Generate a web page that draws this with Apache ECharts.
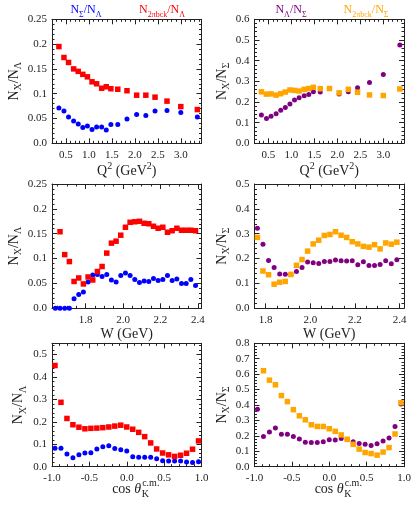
<!DOCTYPE html>
<html><head><meta charset="utf-8">
<script src="https://cdn.jsdelivr.net/npm/echarts/dist/echarts.min.js"></script>
<style>html,body{margin:0;padding:0;background:#fff}#c{width:415px;height:507px}</style>
</head><body><div id="c"></div><script>
// ---------- data ----------
const q2 = [0.35,0.46,0.56,0.67,0.77,0.87,0.97,1.07,1.17,1.28,1.38,1.48,1.63,1.83,2.04,2.24,2.44,2.70,3.00,3.36];
const q2SigLam = [0.071,0.065,0.053,0.045,0.039,0.032,0.035,0.028,0.033,0.033,0.027,0.038,0.038,0.049,0.058,0.056,0.065,0.066,0.062,0.053];
const q2BckLam = [0.195,0.173,0.163,0.150,0.145,0.139,0.134,0.124,0.120,0.111,0.114,0.110,0.109,0.106,0.097,0.097,0.093,0.085,0.074,0.068];
const q2LamSig = [0.137,0.120,0.131,0.143,0.160,0.173,0.190,0.210,0.221,0.230,0.236,0.250,0.248,0.265,0.238,0.249,0.269,0.294,0.333,0.476];
const q2BckSig = [0.249,0.238,0.239,0.233,0.240,0.248,0.258,0.256,0.253,0.261,0.265,0.271,0.264,0.265,0.244,0.261,0.247,0.234,0.231,0.263];

const wLeft = [1.638,1.663,1.688,1.713,1.738,1.763,1.788,1.813,1.838,1.863,1.888,1.913,1.938,1.963,1.988,2.013,2.038,2.063,2.088,2.113,2.138,2.163,2.188,2.213,2.238,2.263,2.288,2.313,2.338,2.363,2.388];
const wSigLam = [0,0,0,0,0.019,0.028,0.033,0.053,0.067,0.068,0.064,0.068,0.057,0.053,0.066,0.071,0.066,0.058,0.052,0.055,0.054,0.060,0.056,0.058,0.066,0.056,0.059,0.050,0.050,0.058,0.046];
const wBckLam = [null,0.154,0.108,0.094,0.054,0.061,0.049,0.063,0.057,0.074,0.084,0.111,0.131,0.135,0.147,0.163,0.173,0.174,0.175,0.171,0.170,0.165,0.161,0.163,0.153,0.156,0.161,0.157,0.157,0.157,0.156];

const wRight = [1.763,1.788,1.813,1.838,1.863,1.888,1.913,1.938,1.963,1.988,2.013,2.038,2.063,2.088,2.113,2.138,2.163,2.188,2.213,2.238,2.263,2.288,2.313,2.338,2.363,2.388];
const wLamSig = [0.322,0.258,0.192,0.164,0.138,0.137,0.137,0.148,0.164,0.186,0.183,0.180,0.188,0.188,0.194,0.191,0.190,0.191,0.175,0.187,0.172,0.172,0.176,0.191,0.179,0.195];
const wBckSig = [0.285,0.150,0.135,0.097,0.105,0.108,0.136,0.173,0.196,0.230,0.259,0.274,0.293,0.297,0.308,0.294,0.285,0.268,0.259,0.249,0.246,0.256,0.239,0.263,0.258,0.266];

const cosT = [-0.96,-0.88,-0.80,-0.72,-0.64,-0.56,-0.48,-0.40,-0.32,-0.24,-0.16,-0.08,0.00,0.08,0.16,0.24,0.32,0.40,0.48,0.56,0.64,0.72,0.80,0.88,0.96];
const cSigLam = [0.082,0.082,0.057,0.040,0.053,0.061,0.062,0.079,0.089,0.093,0.081,0.076,0.070,0.044,0.042,0.042,0.042,0.035,0.026,0.025,0.025,0.025,0.021,0.019,0.022];
const cBckLam = [0.451,0.287,0.215,0.187,0.176,0.169,0.171,0.172,0.174,0.177,0.181,0.185,0.177,0.167,0.153,0.134,0.106,0.079,0.061,0.053,0.046,0.051,0.060,0.078,0.115];
const cLamSig = [0.372,0.195,0.225,0.251,0.210,0.211,0.196,0.180,0.159,0.157,0.157,0.162,0.175,0.173,0.183,0.174,0.161,0.151,0.145,0.137,0.148,0.166,0.186,0.260,0.406];
const cBckSig = [null,0.622,0.561,0.531,0.461,0.422,0.370,0.330,0.304,0.272,0.261,0.261,0.246,0.229,0.206,0.178,0.145,0.114,0.092,0.085,0.075,0.095,0.124,0.212,0.415];

// tick labels
const q2TickLabels = ['0.5','1.0','1.5','2.0','2.5','3.0'];
const wTickLabels = ['1.8','2.0','2.2','2.4'];
const cosTickLabels = ['-1.0','-0.5','0.0','0.5','1.0'];
const y025Labels = ['0.0','0.05','0.1','0.15','0.2','0.25'];
const y05Labels = ['0.0','0.1','0.2','0.3','0.4','0.5'];
const y06Labels = ['0.0','0.1','0.2','0.3','0.4','0.5','0.6'];
const y08Labels = ['0.0','0.1','0.2','0.3','0.4','0.5','0.6','0.7','0.8'];

// ---------- style ----------
const FONT = 'Liberation Serif';
const BLUE = '#0000ff', RED = '#ff0000', PURPLE = '#800080', ORANGE = '#ffa500';
const INK = '#222';

function rich(size, color) {
  const sub = Math.round(size * 0.7);
  return {
    n: {fontSize: size, fontFamily: FONT, color: color, fill: color, lineHeight: size + 6, verticalAlign: 'middle'},
    i: {fontSize: size, fontFamily: FONT, fontStyle: 'italic', color: color, fill: color, lineHeight: size + 6, verticalAlign: 'middle'},
    s: {fontSize: sub, fontFamily: FONT, color: color, fill: color, lineHeight: sub + 1, verticalAlign: 'bottom'},
    p: {fontSize: sub, fontFamily: FONT, color: color, fill: color, lineHeight: sub, verticalAlign: 'top'}
  };
}

function steps(min, max, step) {
  const out = [];
  const k0 = Math.ceil(min / step - 1e-9), k1 = Math.floor(max / step + 1e-9);
  for (let k = k0; k <= k1; k++) out.push(Math.round(k * step * 1e6) / 1e6);
  return out;
}

const panels = [
  {left: 52, top: 19.3, h: 124, xr: [0.2, 3.45], yr: [0, 0.25], xl: q2TickLabels, xm: 0.1, yl: y025Labels, ym: 0.01,
   yname: '{n|N}{s|X}{n|/N}{s|Λ}', ygap: 24, xname: '{n|Q}{p|2}{n| (GeV}{p|2}{n|)}', xgap: 18,
   series: [[q2, q2SigLam, 'circle', BLUE], [q2, q2BckLam, 'rect', RED]]},
  {left: 254.5, top: 19.3, h: 124, xr: [0.2, 3.45], yr: [0, 0.6], xl: q2TickLabels, xm: 0.1, yl: y06Labels, ym: 0.02,
   yname: '{n|N}{s|X}{n|/N}{s|Σ}', ygap: 21, xname: '{n|Q}{p|2}{n| (GeV}{p|2}{n|)}', xgap: 18,
   series: [[q2, q2LamSig, 'circle', PURPLE], [q2, q2BckSig, 'rect', ORANGE]]},
  {left: 52, top: 184, h: 124.3, xr: [1.62, 2.42], yr: [0, 0.25], xl: wTickLabels, xm: 0.05, yl: y025Labels, ym: 0.01,
   yname: '{n|N}{s|X}{n|/N}{s|Λ}', ygap: 24, xname: '{n|W (GeV)}', xgap: 16,
   series: [[wLeft, wSigLam, 'circle', BLUE], [wLeft, wBckLam, 'rect', RED]]},
  {left: 254.5, top: 184, h: 124.3, xr: [1.75, 2.42], yr: [0, 0.5], xl: wTickLabels, xm: 0.05, yl: y05Labels, ym: 0.02,
   yname: '{n|N}{s|X}{n|/N}{s|Σ}', ygap: 21, xname: '{n|W (GeV)}', xgap: 16,
   series: [[wRight, wLamSig, 'circle', PURPLE], [wRight, wBckSig, 'rect', ORANGE]]},
  {left: 52, top: 343.3, h: 123.4, xr: [-1, 1], yr: [0, 0.55], xl: cosTickLabels, xm: 0.1, yl: y05Labels, ym: 0.02,
   yname: '{n|N}{s|X}{n|/N}{s|Λ}', ygap: 24, xname: null, xgap: 0,
   series: [[cosT, cSigLam, 'circle', BLUE], [cosT, cBckLam, 'rect', RED]]},
  {left: 254.5, top: 343.3, h: 123.4, xr: [-1, 1], yr: [0, 0.8], xl: cosTickLabels, xm: 0.1, yl: y08Labels, ym: 0.02,
   yname: '{n|N}{s|X}{n|/N}{s|Σ}', ygap: 21, xname: null, xgap: 0,
   series: [[cosT, cLamSig, 'circle', PURPLE], [cosT, cBckSig, 'rect', ORANGE]]}
];
const PW = 149.5;

const grids = [], xAxes = [], yAxes = [], series = [];
const lineStyle = {color: INK, width: 1};

function labelFormatter(labels) {
  return function (v) {
    for (const l of labels) if (Math.abs(Number(l) - v) < 1e-6) return l;
    return '';
  };
}

panels.forEach(function (p, g) {
  grids.push({left: p.left, top: p.top, width: PW, height: p.h, containLabel: false});
  const xMajor = p.xl.map(Number), yMajor = p.yl.map(Number);
  const xMinor = steps(p.xr[0], p.xr[1], p.xm), yMinor = steps(p.yr[0], p.yr[1], p.ym);
  const xMain = xAxes.length, yMain = yAxes.length;
  ['bottom', 'top'].forEach(function (pos) {
    xAxes.push({
      type: 'value', gridIndex: g, position: pos, min: p.xr[0], max: p.xr[1],
      axisLine: {show: true, onZero: false, lineStyle: lineStyle},
      axisTick: {show: true, inside: true, length: 5, customValues: xMajor, lineStyle: lineStyle},
      axisLabel: pos === 'bottom' ? {show: true, customValues: xMajor, formatter: labelFormatter(p.xl), margin: 6,
        fontFamily: FONT, fontSize: 11, color: INK} : {show: false},
      splitLine: {show: false},
      name: (pos === 'bottom' && p.xname) ? p.xname : '', nameLocation: 'middle', nameGap: p.xgap,
      nameTextStyle: {rich: rich(14, INK)}
    });
    xAxes.push({
      type: 'value', gridIndex: g, position: pos, min: p.xr[0], max: p.xr[1],
      axisLine: {show: false, onZero: false},
      axisTick: {show: true, inside: true, length: 2.5, customValues: xMinor, lineStyle: lineStyle},
      axisLabel: {show: false}, splitLine: {show: false}
    });
  });
  ['left', 'right'].forEach(function (pos) {
    yAxes.push({
      type: 'value', gridIndex: g, position: pos, min: p.yr[0], max: p.yr[1],
      axisLine: {show: true, onZero: false, lineStyle: lineStyle},
      axisTick: {show: true, inside: true, length: 5, customValues: yMajor, lineStyle: lineStyle},
      axisLabel: pos === 'left' ? {show: true, customValues: yMajor, formatter: labelFormatter(p.yl), margin: 5,
        fontFamily: FONT, fontSize: 11, color: INK} : {show: false},
      splitLine: {show: false},
      name: pos === 'left' ? p.yname : '', nameLocation: 'middle', nameGap: p.ygap, nameRotate: 90,
      nameTextStyle: {rich: rich(14, INK)}
    });
    yAxes.push({
      type: 'value', gridIndex: g, position: pos, min: p.yr[0], max: p.yr[1],
      axisLine: {show: false, onZero: false},
      axisTick: {show: true, inside: true, length: 2.5, customValues: yMinor, lineStyle: lineStyle},
      axisLabel: {show: false}, splitLine: {show: false}
    });
  });
  p.series.forEach(function (s, k) {
    const xs = s[0], ys = s[1];
    const data = [];
    for (let i = 0; i < xs.length; i++) if (ys[i] !== null) data.push([xs[i], ys[i]]);
    series.push({
      type: 'scatter', xAxisIndex: xMain, yAxisIndex: yMain, data: data,
      symbol: s[2], symbolSize: s[2] === 'rect' ? 5.5 : 5,
      itemStyle: {color: s[3], opacity: 1}, z: 2 + k, silent: true
    });
  });
});

// ---------- legends and cos theta names ----------
const graphic = [];
function legendText(x, text, color) {
  graphic.push({type: 'text', x: x, y: 10, silent: true,
    style: {text: text, rich: rich(12, color), fill: color, align: 'center', verticalAlign: 'middle', textAlign: 'center', textVerticalAlign: 'middle'}});
}
legendText(86, '{n|N}{s|Σ}{n|/N}{s|Λ}', BLUE);
legendText(162, '{n|N}{s|2πbck}{n|/N}{s|Λ}', RED);
legendText(291, '{n|N}{s|Λ}{n|/N}{s|Σ}', PURPLE);
legendText(366, '{n|N}{s|2πbck}{n|/N}{s|Σ}', ORANGE);

function measure(text, font) {
  const t = new echarts.graphic.Text({style: {text: text, font: font}});
  return t.getBoundingRect().width;
}
const wCos = measure('cos θ', 'normal 14px "' + FONT + '"');
[52 + PW / 2, 254.5 + PW / 2].forEach(function (cx) {
  const yc = 489;
  const xr = cx + wCos / 2;
  graphic.push({type: 'text', x: xr, y: yc, silent: true,
    style: {text: '{n|cos }{i|θ}', rich: rich(14, INK), fill: INK, align: 'right', verticalAlign: 'middle', textAlign: 'right', textVerticalAlign: 'middle'}});
  graphic.push({type: 'text', x: xr + 0.5, y: yc + 5, silent: true,
    style: {text: 'K', font: 'normal 10px "' + FONT + '"', fill: INK, align: 'left', verticalAlign: 'middle', textAlign: 'left', textVerticalAlign: 'middle'}});
  graphic.push({type: 'text', x: xr + 1, y: yc - 6, silent: true,
    style: {text: 'c.m.', font: 'normal 10px "' + FONT + '"', fill: INK, align: 'left', verticalAlign: 'middle', textAlign: 'left', textVerticalAlign: 'middle'}});
});

const chart = echarts.init(document.getElementById('c'), null, {renderer: 'canvas', width: 415, height: 507});
chart.setOption({
  animation: false,
  backgroundColor: '#fff',
  grid: grids, xAxis: xAxes, yAxis: yAxes, series: series, graphic: graphic
});
</script></body></html>
